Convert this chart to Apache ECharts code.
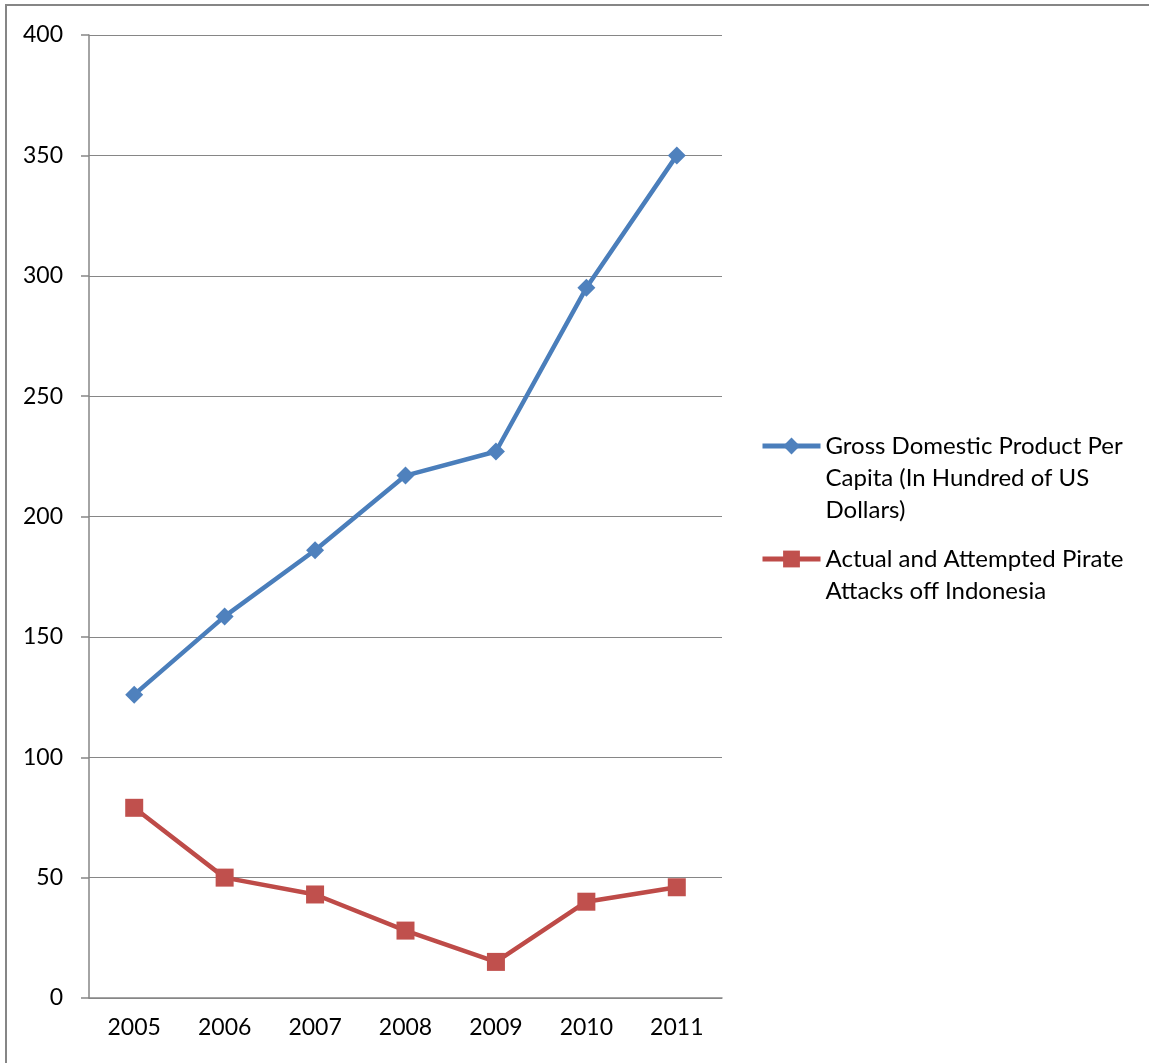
<!DOCTYPE html>
<html>
<head>
<meta charset="utf-8">
<script src="https://cdn.jsdelivr.net/npm/echarts@6/dist/echarts.min.js"></script>
<style>
  html, body { margin: 0; padding: 0; background: #fff; }
  #chart { width: 1149px; height: 1063px; }
</style>
</head>
<body>
<div id="chart"></div>
<script>
// data
var years = ['2005', '2006', '2007', '2008', '2009', '2010', '2011'];
var gdp = [126, 158.5, 186, 217, 227, 295, 350];
var attacks = [79, 50, 43, 28, 15, 40, 46];
var gdpName = 'Gross Domestic Product Per Capita (In Hundred of US Dollars)';
var attName = 'Actual and Attempted Pirate Attacks off Indonesia';

var font = 'Lato, "Open Sans", sans-serif';
var gray = '#868686';

var myChart = echarts.init(document.getElementById('chart'));

// legend text wrapped by hand; blank lines on top keep the first line next to the icon
function legendText(name) {
    if (name == gdpName) return ' \n \nGross Domestic Product Per\nCapita (In Hundred of US\nDollars)';
    return ' \nActual and Attempted Pirate\nAttacks off Indonesia';
}

var legendBase = {
    orient: 'vertical',
    left: 755,
    itemWidth: 58,
    itemHeight: 21,
    itemGap: 0,
    lineStyle: { width: 5 },
    formatter: legendText,
    textStyle: { fontFamily: font, fontSize: 24, color: '#000', lineHeight: 32 }
};

var option = {
    animation: false,
    backgroundColor: '#fff',
    grid: { left: 89, right: 427, top: 35, bottom: 65 },
    legend: [
        Object.assign({}, legendBase, { top: 361, data: [gdpName] }),
        Object.assign({}, legendBase, { top: 506, data: [attName] })
    ],
    xAxis: {
        type: 'category',
        data: years,
        boundaryGap: true,
        axisLine: { lineStyle: { color: gray, width: 1.5 } },
        axisTick: { length: 8, lineStyle: { color: gray, width: 1.5 } },
        axisLabel: { fontFamily: font, fontSize: 23, color: '#000', margin: 18 }
    },
    yAxis: {
        type: 'value',
        min: 0,
        max: 400,
        interval: 50,
        axisLine: { show: true, lineStyle: { color: gray, width: 1.5 } },
        axisTick: { show: true, length: 8, lineStyle: { color: gray, width: 1.5 } },
        splitLine: { lineStyle: { color: gray, width: 1.2 } },
        axisLabel: { fontFamily: font, fontSize: 23, color: '#000', margin: 26 }
    },
    series: [
        {
            name: gdpName,
            type: 'line',
            data: gdp,
            symbol: 'diamond',
            symbolSize: 18,
            lineStyle: { color: '#4a7ebb', width: 4.5 },
            itemStyle: { color: '#4f81bd' }
        },
        {
            name: attName,
            type: 'line',
            data: attacks,
            symbol: 'rect',
            symbolSize: 18,
            lineStyle: { color: '#be4b48', width: 4.5 },
            itemStyle: { color: '#c0504d' }
        }
    ],
    graphic: [
        {
            type: 'rect',
            shape: { x: 6, y: 5, width: 1200, height: 1120 },
            style: { fill: 'none', stroke: gray, lineWidth: 2 },
            silent: true
        }
    ]
};

myChart.setOption(option);
</script>
</body>
</html>
